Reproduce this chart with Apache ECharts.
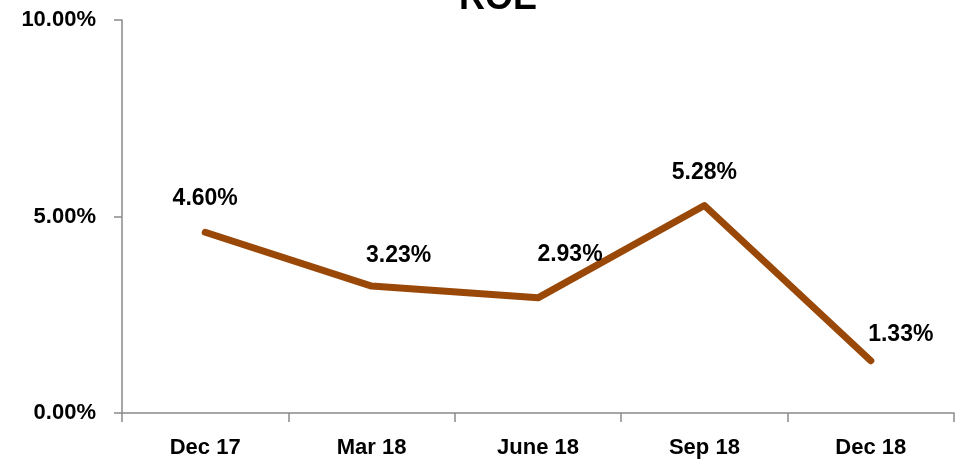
<!DOCTYPE html>
<html>
<head>
<meta charset="utf-8">
<script src="https://cdn.jsdelivr.net/npm/echarts@6/dist/echarts.min.js"></script>
<style>
  html, body { margin: 0; padding: 0; background: #fff; }
  #chart { width: 955px; height: 462px; }
</style>
</head>
<body>
<div id="chart"></div>
<script>
const categories = ['Dec 17', 'Mar 18', 'June 18', 'Sep 18', 'Dec 18']
const roeValues = [4.60, 3.23, 2.93, 5.28, 1.33]
const yTicks = { min: 0, max: 10, interval: 5 }

// label nudges, as in the original sheet
const labelOffsets = [[0, -34], [27, -30], [32, -43], [0, -33], [30, -26]]

const fontFamily = '"Liberation Sans", Arial, sans-serif'
const axisColor = '#8a8a8a'
const lineColor = '#9a4808'

const chart = echarts.init(document.getElementById('chart'))

const seriesData = roeValues.map((v, i) => ({
  value: v,
  label: { offset: labelOffsets[i] }
}))

chart.setOption({
  animation: false,
  graphic: [{
    type: 'text',
    x: 498,
    y: 17,
    style: {
      text: 'ROE',
      font: 'bold 36px ' + fontFamily,
      fill: '#000',
      align: 'center',
      verticalAlign: 'bottom'
    }
  }],
  grid: { left: 122, right: 1, top: 20, bottom: 49 },
  xAxis: {
    type: 'category',
    data: categories,
    boundaryGap: true,
    axisLine: { lineStyle: { color: axisColor, width: 1.5 } },
    axisTick: { show: true, length: 9, lineStyle: { color: axisColor, width: 1.5 } },
    axisLabel: { color: '#000', fontWeight: 'bold', fontSize: 22, fontFamily: fontFamily, margin: 24 },
    splitLine: { show: false }
  },
  yAxis: {
    type: 'value',
    min: yTicks.min,
    max: yTicks.max,
    interval: yTicks.interval,
    axisLine: { show: true, lineStyle: { color: axisColor, width: 1.5 } },
    axisTick: { show: true, length: 8, lineStyle: { color: axisColor, width: 1.5 } },
    axisLabel: {
      color: '#000', fontWeight: 'bold', fontSize: 22, fontFamily: fontFamily, margin: 26,
      formatter: v => v.toFixed(2) + '%'
    },
    splitLine: { show: false }
  },
  series: [{
    type: 'line',
    data: seriesData,
    symbol: 'circle',
    symbolSize: 1,
    showSymbol: true,
    itemStyle: { color: lineColor },
    lineStyle: { color: lineColor, width: 7, cap: 'round', join: 'round' },
    label: {
      show: true,
      position: 'inside',
      color: '#000',
      fontWeight: 'bold',
      fontSize: 23,
      fontFamily: fontFamily,
      formatter: p => p.value.toFixed(2) + '%'
    }
  }]
})
</script>
</body>
</html>
